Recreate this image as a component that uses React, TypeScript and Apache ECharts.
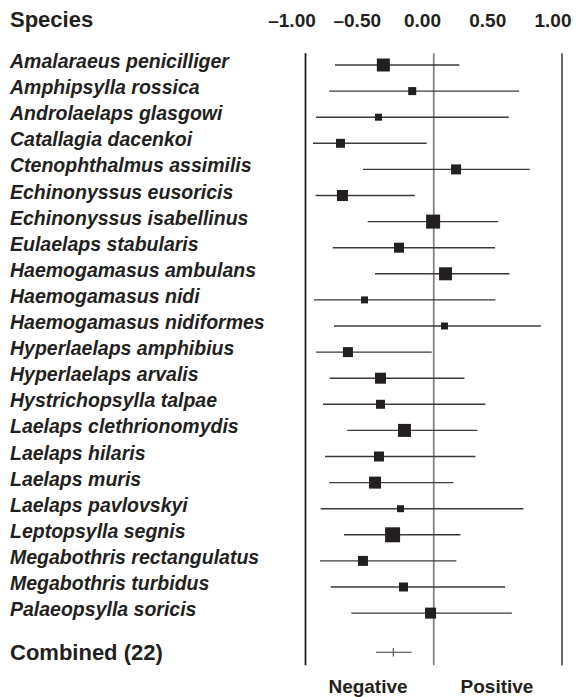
import React, { useEffect, useRef } from "react";
import * as echarts from "echarts";

const species = [
  "Amalaraeus penicilliger",
  "Amphipsylla rossica",
  "Androlaelaps glasgowi",
  "Catallagia dacenkoi",
  "Ctenophthalmus assimilis",
  "Echinonyssus eusoricis",
  "Echinonyssus isabellinus",
  "Eulaelaps stabularis",
  "Haemogamasus ambulans",
  "Haemogamasus nidi",
  "Haemogamasus nidiformes",
  "Hyperlaelaps amphibius",
  "Hyperlaelaps arvalis",
  "Hystrichopsylla talpae",
  "Laelaps clethrionomydis",
  "Laelaps hilaris",
  "Laelaps muris",
  "Laelaps pavlovskyi",
  "Leptopsylla segnis",
  "Megabothris rectangulatus",
  "Megabothris turbidus",
  "Palaeopsylla soricis",
];
const means = [-0.393, -0.168, -0.431, -0.727, 0.174, -0.712, -0.005, -0.271, 0.092, -0.54, 0.084, -0.669, -0.415, -0.415, -0.228, -0.427, -0.458, -0.259, -0.321, -0.552, -0.236, -0.025];
const lower = [-0.77, -0.815, -0.918, -0.942, -0.552, -0.921, -0.515, -0.788, -0.458, -0.934, -0.778, -0.918, -0.812, -0.864, -0.674, -0.848, -0.815, -0.882, -0.7, -0.887, -0.804, -0.643];
const upper = [0.2, 0.666, 0.585, -0.055, 0.749, -0.148, 0.502, 0.478, 0.59, 0.481, 0.835, -0.016, 0.239, 0.403, 0.34, 0.325, 0.153, 0.699, 0.208, 0.176, 0.556, 0.609];
const weights = [13, 8, 7, 9, 10, 11, 14, 10, 13, 7, 7, 10, 11, 9, 13, 10, 12, 7, 15, 10, 9, 11];

const combinedLabel = "Combined (22)";
const combinedMean = -0.315;
const combinedLower = -0.45;
const combinedUpper = -0.172;

const headerTicks = [-1, -0.5, 0, 0.5, 1];
const headerTickLabels = ["\u20131.00", "\u20130.50", "0.00", "0.50", "1.00"];
const referenceLines = [-1, 0, 1];

const FONT = "'Liberation Sans', Arial, Helvetica, sans-serif";
const INK = "#231f20";

export default function App() {
  const ref = useRef<HTMLDivElement>(null);
  useEffect(() => {
    if (!ref.current) return;
    const chart = echarts.init(ref.current, undefined, { renderer: "svg" });
    const combinedRow = species.length + 0.5;
    const frameTop = -0.45;
    const frameBottom = combinedRow + 0.5;

    const ciData = species.map((_, i) => [i, lower[i], upper[i]]);
    const squareData = species.map((_, i) => ({ value: [means[i], i], symbolSize: weights[i] }));

    const refColors = ["#1e1e1e", "#858585", "#5a5a5a"];

    const option: any = {
      animation: false,
      textStyle: { fontFamily: FONT },
      grid: [
        { left: 305.5, width: 256.5, top: 51.95, bottom: 18.65 },
        { left: 292, width: 261, top: 0, height: 20 },
      ],
      xAxis: [
        {
          type: "value",
          gridIndex: 0,
          min: -1,
          max: 1,
          axisLine: { show: false },
          axisTick: { show: false },
          axisLabel: { show: false },
          splitLine: { show: false },
        },
        {
          type: "value",
          gridIndex: 1,
          min: -1,
          max: 1,
          interval: 0.5,
          position: "bottom",
          axisLine: { show: false },
          axisTick: { show: false },
          splitLine: { show: false },
          axisLabel: {
            margin: 0,
            verticalAlign: "middle",
            fontFamily: FONT,
            fontWeight: "bold",
            fontSize: 19,
            color: INK,
            showMinLabel: true,
            showMaxLabel: true,
            formatter: (v: number) => {
              const k = headerTicks.indexOf(v);
              return k >= 0 ? headerTickLabels[k] : "";
            },
          },
        },
      ],
      yAxis: [
        {
          type: "value",
          gridIndex: 0,
          inverse: true,
          min: -0.5,
          max: species.length + 1.5,
          interval: 0.5,
          axisLine: { show: false },
          axisTick: { show: false },
          splitLine: { show: false },
          axisLabel: {
            align: "left",
            margin: 295.5,
            formatter: (v: number) => {
              if (Number.isInteger(v) && v >= 0 && v < species.length) return `{sp|${species[v]}}`;
              if (v === combinedRow) return `{cb|${combinedLabel}}`;
              return "";
            },
            rich: {
              sp: {
                fontFamily: FONT,
                fontStyle: "italic",
                fontWeight: "bold",
                fontSize: 19.5,
                color: INK,
                padding: [0, 0, 8, 0],
              },
              cb: {
                fontFamily: FONT,
                fontWeight: "bold",
                fontSize: 22,
                color: INK,
              },
            },
          },
        },
        {
          type: "value",
          gridIndex: 1,
          show: false,
          min: 0,
          max: 1,
        },
      ],
      series: [
        ...referenceLines.map((x, k) => ({
          type: "line",
          xAxisIndex: 0,
          yAxisIndex: 0,
          symbol: "none",
          silent: true,
          lineStyle: { color: refColors[k], width: 1.8 },
          data: [
            [x, frameTop],
            [x, frameBottom],
          ],
          z: 1,
        })),
        {
          type: "custom",
          xAxisIndex: 0,
          yAxisIndex: 0,
          data: ciData,
          z: 2,
          renderItem: (params: any, api: any) => {
            const row = api.value(0);
            const p1 = api.coord([api.value(1), row]);
            const p2 = api.coord([api.value(2), row]);
            return {
              type: "line",
              shape: { x1: p1[0], y1: p1[1], x2: p2[0], y2: p2[1] },
              style: { stroke: "#3a3a3a", lineWidth: 1.4 },
            };
          },
        },
        {
          type: "scatter",
          xAxisIndex: 0,
          yAxisIndex: 0,
          symbol: "rect",
          data: squareData,
          itemStyle: { color: INK, opacity: 1 },
          z: 3,
        },
        {
          type: "custom",
          xAxisIndex: 0,
          yAxisIndex: 0,
          data: [[combinedRow, combinedMean, combinedLower, combinedUpper]],
          z: 3,
          renderItem: (params: any, api: any) => {
            const row = api.value(0);
            const pm = api.coord([api.value(1), row]);
            const pl = api.coord([api.value(2), row]);
            const pu = api.coord([api.value(3), row]);
            return {
              type: "group",
              children: [
                {
                  type: "line",
                  shape: { x1: pl[0], y1: pl[1], x2: pu[0], y2: pu[1] },
                  style: { stroke: "#3a3a3a", lineWidth: 1.2 },
                },
                {
                  type: "line",
                  shape: { x1: pm[0], y1: pm[1] - 4.2, x2: pm[0], y2: pm[1] + 4.2 },
                  style: { stroke: "#555", lineWidth: 1.2 },
                },
              ],
            };
          },
        },
      ],
      graphic: [
        {
          type: "text",
          left: 10,
          top: 8,
          style: {
            text: "Species",
            font: `bold 22px ${FONT}`,
            fill: INK,
          },
        },
        {
          type: "text",
          x: 368,
          y: 686,
          style: {
            text: "Negative",
            font: `bold 19px ${FONT}`,
            fill: INK,
            textAlign: "center",
            textVerticalAlign: "middle",
          },
        },
        {
          type: "text",
          x: 497,
          y: 686,
          style: {
            text: "Positive",
            font: `bold 19px ${FONT}`,
            fill: INK,
            textAlign: "center",
            textVerticalAlign: "middle",
          },
        },
      ],
    };
    chart.setOption(option);
    return () => chart.dispose();
  }, []);
  return <div ref={ref} style={{ width: 576, height: 697, position: "absolute", left: 0, top: 0 }} />;
}
